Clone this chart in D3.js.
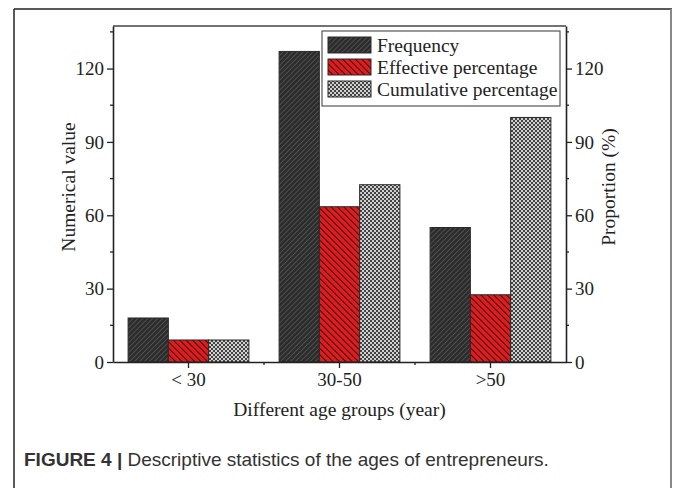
<!DOCTYPE html>
<html>
<head>
<meta charset="utf-8">
<script src="https://cdn.jsdelivr.net/npm/d3@7"></script>
<style>
  body { margin: 0; background: #fff; }
</style>
</head>
<body>
<svg id="chart" width="673" height="488"></svg>
<script>
// data
const groups = ["< 30", "30-50", ">50"];
const seriesNames = ["Frequency", "Effective percentage", "Cumulative percentage"];
const frequency = [18, 127, 55];
const effective = [9, 63.5, 27.5];
const cumulative = [9, 72.5, 100];
const yTicks = [0, 30, 60, 90, 120];

let svg = d3.select("#chart");
let margin = {top: 26, right: 107, bottom: 126, left: 113};
let width = +svg.attr("width") - margin.left - margin.right;
let height = +svg.attr("height") - margin.top - margin.bottom;

// outer figure frame
svg.append("line").attr("x1", 14).attr("x2", 672).attr("y1", 9).attr("y2", 9)
    .attr("stroke", "#222").attr("stroke-width", 1.5);
svg.append("line").attr("x1", 14).attr("x2", 14).attr("y1", 9).attr("y2", 488)
    .attr("stroke", "#222").attr("stroke-width", 1.5);
svg.append("line").attr("x1", 671).attr("x2", 671).attr("y1", 9).attr("y2", 488)
    .attr("stroke", "#888").attr("stroke-width", 2);

// fill patterns
let defs = svg.append("defs");
let p1 = defs.append("pattern").attr("id", "pFreq").attr("patternUnits", "userSpaceOnUse")
    .attr("width", 3.5).attr("height", 3.5).attr("patternTransform", "rotate(45)");
p1.append("rect").attr("width", 3.5).attr("height", 3.5).attr("fill", "#2c2c2c");
p1.append("line").attr("x1", 0).attr("x2", 0).attr("y1", 0).attr("y2", 3.5)
    .attr("stroke", "#555").attr("stroke-width", 1.6);

let p2 = defs.append("pattern").attr("id", "pEff").attr("patternUnits", "userSpaceOnUse")
    .attr("width", 4.5).attr("height", 4.5).attr("patternTransform", "rotate(-45)");
p2.append("rect").attr("width", 4.5).attr("height", 4.5).attr("fill", "#e8191c");
p2.append("line").attr("x1", 0).attr("x2", 0).attr("y1", 0).attr("y2", 4.5)
    .attr("stroke", "#1a1a1a").attr("stroke-width", 2);

let p3 = defs.append("pattern").attr("id", "pCum").attr("patternUnits", "userSpaceOnUse")
    .attr("width", 4).attr("height", 4);
p3.append("rect").attr("width", 4).attr("height", 4).attr("fill", "#d0d0d0");
p3.append("rect").attr("width", 2).attr("height", 2).attr("fill", "#444");
p3.append("rect").attr("x", 2).attr("y", 2).attr("width", 2).attr("height", 2).attr("fill", "#444");

const fills = ["url(#pFreq)", "url(#pEff)", "url(#pCum)"];

let g = svg.append("g").attr("transform", `translate(${margin.left}, ${margin.top})`);

let x = d3.scaleBand().domain(groups).range([0, width]);
let inner = d3.scaleBand().domain(seriesNames)
    .range([x.bandwidth() * 0.1, x.bandwidth() * 0.9]);
let y = d3.scaleLinear().domain([0, 137.4]).range([height, 0]);
let y2 = d3.scaleLinear().domain([0, 137.4]).range([height, 0]);

// bars
let rows = groups.map((d, i) => ({group: d, vals: [
    {s: seriesNames[0], v: frequency[i], sc: y},
    {s: seriesNames[1], v: effective[i], sc: y2},
    {s: seriesNames[2], v: cumulative[i], sc: y2}
]}));
g.append("g").selectAll("g")
    .data(rows).enter().append("g")
    .attr("transform", (d) => `translate(${x(d.group)}, 0)`)
    .selectAll("rect")
    .data((d) => d.vals)
    .enter().append("rect")
        .attr("x", (d) => inner(d.s))
        .attr("y", (d) => d.sc(d.v))
        .attr("width", inner.bandwidth())
        .attr("height", (d) => height - d.sc(d.v))
        .attr("fill", (d, i) => fills[i])
        .attr("stroke", "#2a2a2a")
        .attr("stroke-width", 1);

const axisColor = "#222";
const font = "'Liberation Serif', 'DejaVu Serif', serif";

// top frame of plot
g.append("line").attr("x1", 0).attr("x2", width).attr("y1", 0).attr("y2", 0)
    .attr("stroke", "#444").attr("stroke-width", 1.3);

// minor ticks
let minor = d3.range(15, 137, 30);
g.append("g").selectAll("line").data(minor).enter().append("line")
    .attr("x1", -3).attr("x2", 0).attr("y1", (d) => y(d)).attr("y2", (d) => y(d))
    .attr("stroke", axisColor).attr("stroke-width", 1.3);
g.append("g").selectAll("line").data(minor).enter().append("line")
    .attr("x1", width).attr("x2", width + 3).attr("y1", (d) => y2(d)).attr("y2", (d) => y2(d))
    .attr("stroke", axisColor).attr("stroke-width", 1.3);
let bounds = groups.slice(1).map((d) => x(d));
g.append("g").selectAll("line").data(bounds).enter().append("line")
    .attr("x1", (d) => d).attr("x2", (d) => d).attr("y1", height).attr("y2", height + 3)
    .attr("stroke", axisColor).attr("stroke-width", 1.3);

// axes
let styleAxis = (sel) => {
    sel.select(".domain").attr("stroke", axisColor).attr("stroke-width", 1.6);
    sel.selectAll(".tick line").attr("stroke", axisColor).attr("stroke-width", 1.3);
    sel.selectAll("text").attr("font-family", font).attr("font-size", 19).attr("fill", "#222");
};
g.append("g")
    .attr("transform", `translate(0, ${height})`)
    .call(d3.axisBottom(x).tickSize(6).tickSizeOuter(0).tickPadding(5))
    .call(styleAxis);
g.append("g")
    .call(d3.axisLeft(y).tickValues(yTicks).tickSize(6).tickSizeOuter(0).tickPadding(3))
    .call(styleAxis);
g.append("g")
    .attr("transform", `translate(${width}, 0)`)
    .call(d3.axisRight(y2).tickValues(yTicks).tickSize(6).tickSizeOuter(0).tickPadding(3))
    .call(styleAxis);

// axis titles
g.append("text")
    .attr("transform", `translate(-38, ${height / 2 - 7}) rotate(-90)`)
    .attr("text-anchor", "middle")
    .attr("font-family", font).attr("font-size", 19.5).attr("fill", "#222")
    .text("Numerical value");
g.append("text")
    .attr("transform", `translate(${width + 49}, ${height / 2 - 7}) rotate(-90)`)
    .attr("text-anchor", "middle")
    .attr("font-family", font).attr("font-size", 19.5).attr("fill", "#222")
    .text("Proportion (%)");
g.append("text")
    .attr("x", width / 2).attr("y", height + 54)
    .attr("text-anchor", "middle")
    .attr("font-family", font).attr("font-size", 19.5).attr("fill", "#222")
    .text("Different age groups (year)");

// legend
let legend = svg.append("g").attr("transform", "translate(322, 31)");
legend.append("rect").attr("width", 238).attr("height", 75)
    .attr("fill", "#fff").attr("stroke", "#555").attr("stroke-width", 1.2);
let ly = d3.scaleBand().domain(seriesNames).range([5, 71]);
legend.selectAll("g.item").data(seriesNames).enter().append("g")
    .attr("class", "item")
    .attr("transform", (d) => `translate(6, ${ly(d)})`)
    .each(function(d, i) {
        d3.select(this).append("rect")
            .attr("width", 43).attr("height", 16).attr("y", 1)
            .attr("fill", fills[i]).attr("stroke", "#2a2a2a").attr("stroke-width", 1);
        d3.select(this).append("text")
            .attr("x", 49).attr("y", 16)
            .attr("font-family", font).attr("font-size", 19.5).attr("fill", "#222")
            .text(d);
    });

// caption
let cap = svg.append("text").attr("x", 24).attr("y", 466)
    .attr("font-family", "'Liberation Sans', Arial, sans-serif").attr("font-size", 19)
    .attr("fill", "#333");
cap.append("tspan").attr("font-weight", "bold").text("FIGURE 4 | ");
cap.append("tspan").text("Descriptive statistics of the ages of entrepreneurs.");
</script>
</body>
</html>
